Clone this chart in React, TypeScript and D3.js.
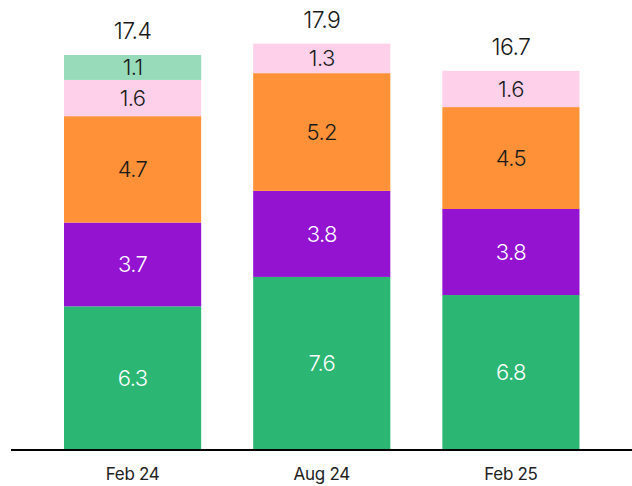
import React from "react";
import * as d3 from "d3";

const categories = ["Feb 24", "Aug 24", "Feb 25"];
const seriesNames = ["s1", "s2", "s3", "s4", "s5"];
const s1 = [6.3, 7.6, 6.8];
const s2 = [3.7, 3.8, 3.8];
const s3 = [4.7, 5.2, 4.5];
const s4 = [1.6, 1.3, 1.6];
const s5 = [1.1, 0, 0];
const totals = [17.4, 17.9, 16.7];

const colors = ["#2bb673", "#9313d1", "#ff9138", "#ffd0ea", "#97dbba"];
const textColors = ["#ffffff", "#ffffff", "#1a1a1a", "#1a1a1a", "#1a1a1a"];

const W = 632;
const H = 486;

export default function App() {
  const rows = categories.map((c, i) => ({
    cat: c,
    s1: s1[i],
    s2: s2[i],
    s3: s3[i],
    s4: s4[i],
    s5: s5[i],
  }));
  const stacked = d3.stack<any>().keys(seriesNames)(rows);
  const x = d3
    .scaleBand<string>()
    .domain(categories)
    .range([38, 605.5])
    .paddingInner(0.275)
    .paddingOuter(0.1375);
  const y = d3.scaleLinear().domain([0, 17.9]).range([449, 43.7]);
  const font = "Inter, 'Noto Sans', sans-serif";

  return (
    <svg
      width={W}
      height={H}
      style={{ position: "absolute", left: 0, top: 0 }}
      fontFamily={font}
    >
      <rect width={W} height={H} fill="#ffffff" />
      {stacked.map((layer, li) =>
        layer.map((d, i) => {
          const v = d[1] - d[0];
          if (v <= 0) return null;
          const x0 = x(categories[i])!;
          const yTop = y(d[1]);
          const yBot = y(d[0]);
          return (
            <g key={`${li}-${i}`}>
              <rect
                x={x0}
                y={yTop}
                width={x.bandwidth()}
                height={yBot - yTop}
                fill={colors[li]}
              />
              <text
                x={x0 + x.bandwidth() / 2}
                y={(yTop + yBot) / 2}
                dy="0.36em"
                textAnchor="middle"
                fontSize={22}
                fontWeight={300}
                letterSpacing={-0.6}
                fill={textColors[li]}
              >
                {v.toFixed(1)}
              </text>
            </g>
          );
        })
      )}
      {categories.map((c, i) => (
        <text
          key={`t${i}`}
          x={x(c)! + x.bandwidth() / 2}
          y={y(totals[i]) - 16}
          textAnchor="middle"
          fontSize={23}
          fontWeight={300}
          letterSpacing={-0.6}
          fill="#1a1a1a"
        >
          {totals[i].toFixed(1)}
        </text>
      ))}
      <line x1={11} x2={632} y1={450} y2={450} stroke="#000" strokeWidth={2} />
      {categories.map((c, i) => (
        <text
          key={`c${i}`}
          x={x(c)! + x.bandwidth() / 2}
          y={480}
          textAnchor="middle"
          fontSize={17}
          fontWeight={400}
          letterSpacing={-0.3}
          fill="#222"
        >
          {c}
        </text>
      ))}
    </svg>
  );
}
